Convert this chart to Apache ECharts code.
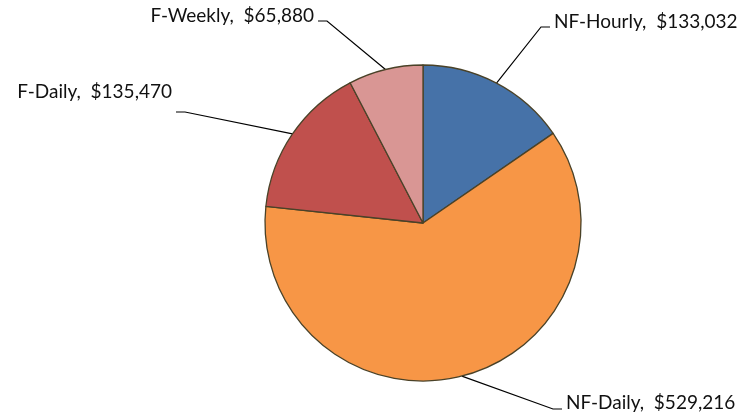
<!DOCTYPE html>
<html>
<head>
<meta charset="utf-8">
<script src="https://cdn.jsdelivr.net/npm/echarts@6/dist/echarts.min.js"></script>
<style>
  html, body { margin: 0; padding: 0; background: #fff; }
  #chart { width: 752px; height: 417px; }
</style>
</head>
<body>
<div id="chart"></div>
<script>
// categories and values
var categories = ["NF-Hourly", "NF-Daily", "F-Daily", "F-Weekly"];
var amounts = [133032, 529216, 135470, 65880];
var colors = ["#4672A8", "#F79646", "#C0504D", "#D99694"];

// where each label sits: text anchor x, text centre y, align, stub y
var labelSpots = [
  { x: 554, y: 22, align: "left", lineY: 27 },
  { x: 566, y: 403, align: "left", lineY: 409 },
  { x: 172, y: 92, align: "right", lineY: 112 },
  { x: 314, y: 16, align: "right", lineY: 21 }
];

function money(v) {
  return "$" + v.toString().replace(/\B(?=(\d{3})+(?!\d))/g, ",");
}

var chart = echarts.init(document.getElementById("chart"));
chart.setOption({
  animation: false,
  series: [
    {
      type: "pie",
      center: [423, 223],
      radius: 158,
      startAngle: 90,
      clockwise: true,
      data: categories.map(function (c, i) {
        return { name: c, value: amounts[i], itemStyle: { color: colors[i] } };
      }),
      itemStyle: {
        borderColor: "#4a4228",
        borderWidth: 1.3
      },
      emphasis: { disabled: true },
      label: {
        show: true,
        formatter: function (p) {
          return p.name + ",  " + money(p.value);
        },
        fontFamily: "Lato",
        fontSize: 19,
        color: "#111"
      },
      labelLine: {
        show: true,
        lineStyle: { color: "#000", width: 1.2 }
      },
      labelLayout: function (params) {
        var s = labelSpots[params.dataIndex];
        var start = params.labelLinePoints[0];
        var end = s.align === "left" ? s.x - 4 : s.x + 4;
        var elbow = s.align === "left" ? end - 9 : end + 9;
        return {
          x: s.x,
          y: s.y,
          align: s.align,
          verticalAlign: "middle",
          labelLinePoints: [start, [elbow, s.lineY], [end, s.lineY]]
        };
      }
    }
  ]
});
</script>
</body>
</html>
